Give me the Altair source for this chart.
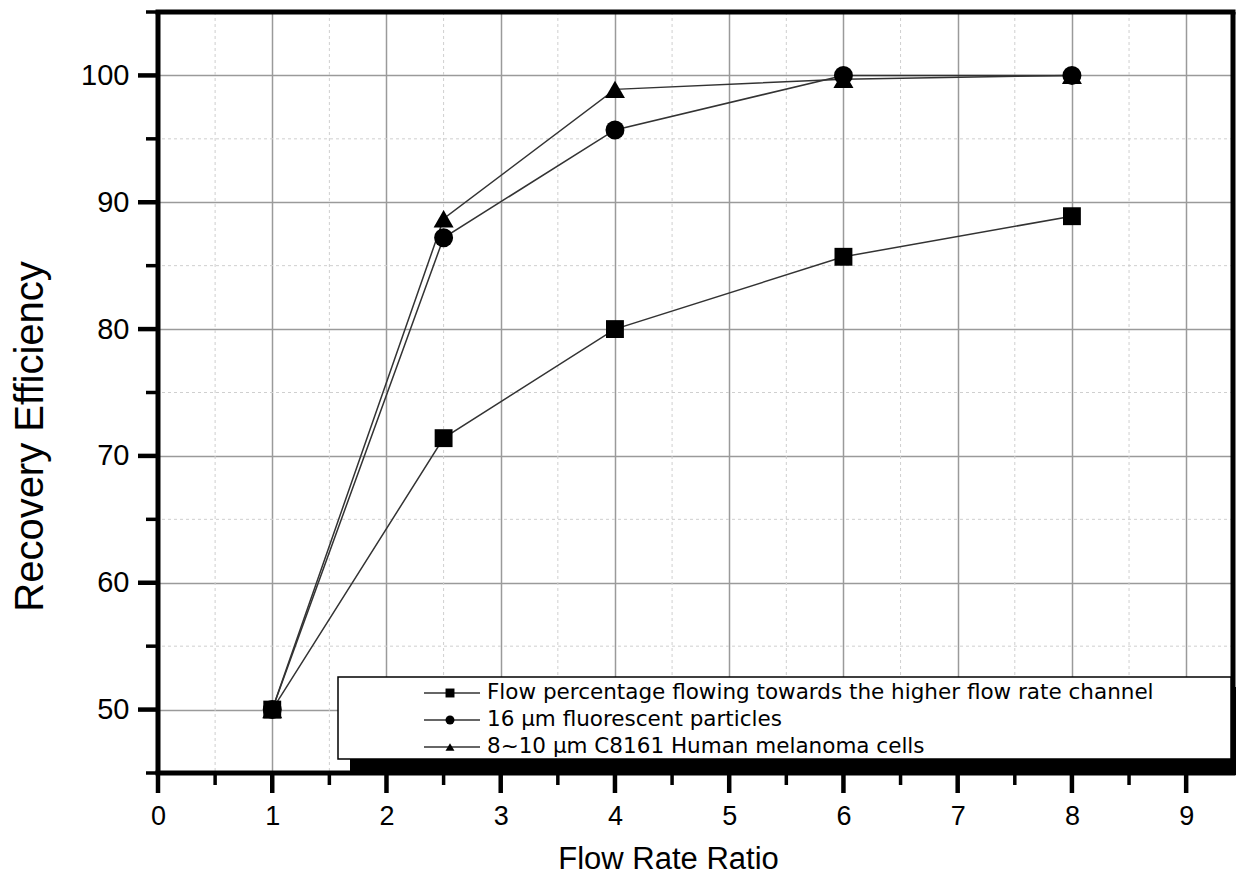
import altair as alt
import pandas as pd

# ---- data ----
flow_ratio = [1, 2.5, 4, 6, 8]
flow_pct = [50.0, 71.4, 80.0, 85.7, 88.9]
particles_16um = [50.0, 87.2, 95.7, 100.0, 100.0]
melanoma_cells = [50.0, 88.7, 98.9, 99.7, 100.0]

series_names = [
    "Flow percentage flowing towards the higher flow rate channel",
    "16 \u00b5m fluorescent particles",
    "8~10 \u00b5m C8161 Human melanoma cells",
]
series_shapes = ["square", "circle", "triangle-up"]
series_sizes = [320, 400, 460]

x_major = [0, 1, 2, 3, 4, 5, 6, 7, 8, 9]
x_minor = [0.5, 1.5, 2.5, 3.5, 4.5, 5.5, 6.5, 7.5, 8.5]
y_major = [50, 60, 70, 80, 90, 100]
y_minor = [45, 55, 65, 75, 85, 95, 105]
y_minor_grid = [55, 65, 75, 85, 95]

rows = []
for name, vals in zip(series_names, [flow_pct, particles_16um, melanoma_cells]):
    for xv, yv in zip(flow_ratio, vals):
        rows.append({"series": name, "ratio": xv, "eff": yv})
df = pd.DataFrame(rows)
df_xmajor = pd.DataFrame({"ratio": x_major})
df_xminor = pd.DataFrame({"ratio": x_minor})
df_ymajor = pd.DataFrame({"eff": y_major})
df_yminor = pd.DataFrame({"eff": y_minor})
df_yminor_grid = pd.DataFrame({"eff": y_minor_grid})

FONT = "Liberation Sans"
W, H = 1075, 761
TMAJ, TMIN = 18, 11

x_axis = alt.Axis(
    values=x_major,
    title="Flow Rate Ratio",
    format="d",
    labelOverlap=False, labelFlush=False,
    labelFont=FONT, labelFontSize=27, labelColor="black", labelPadding=12,
    tickSize=TMAJ, tickOpacity=0,
    domain=False,
    grid=True, gridColor="#9a9a9a", gridWidth=1.5,
    titleFont=FONT, titleFontSize=31, titleFontWeight="normal", titleColor="black",
    titleX=510, titleY=95, titleAlign="center", titleBaseline="alphabetic",
)

y_axis = alt.Axis(
    values=y_major,
    title="Recovery Efficiency",
    format="d",
    labelOverlap=False, labelFlush=False,
    labelFont=FONT, labelFontSize=29, labelColor="black", labelPadding=11,
    tickSize=TMAJ, tickOpacity=0,
    domain=False,
    grid=True, gridColor="#9a9a9a", gridWidth=1.5,
    titleFont=FONT, titleFontSize=40, titleFontWeight="normal", titleColor="black",
    titleAngle=270, titleX=-116, titleY=424, titleAlign="center", titleBaseline="alphabetic",
)

x_scale = alt.Scale(domain=[0, 9.41], nice=False, zero=False)
y_scale = alt.Scale(domain=[45, 105], nice=False, zero=False)
X = alt.X("ratio:Q", scale=x_scale, axis=x_axis)
Y = alt.Y("eff:Q", scale=y_scale, axis=y_axis)

# minor grid (dashed)
minor_grid_x = alt.Chart(df_xminor).mark_rule(color="#cfcfcf", strokeWidth=1, strokeDash=[3, 3]).encode(x=X)
minor_grid_y = alt.Chart(df_yminor_grid).mark_rule(color="#cfcfcf", strokeWidth=1, strokeDash=[3, 3]).encode(y=Y)

# data
base = alt.Chart(df)
lines = base.mark_line(color="#333333", strokeWidth=1.5).encode(
    x=X, y=Y, detail="series:N", order="ratio:Q"
)
points = base.mark_point(filled=True, color="black", opacity=1).encode(
    x=X, y=Y,
    shape=alt.Shape("series:N", scale=alt.Scale(domain=series_names, range=series_shapes), legend=None),
    size=alt.Size("series:N", scale=alt.Scale(domain=series_names, range=series_sizes), legend=None),
)

# ticks (outward, thick)
major_tick_x = alt.Chart(df_xmajor).mark_rule(color="black", strokeWidth=4.5).encode(
    x=X, y=alt.value(H), y2=alt.value(H + TMAJ + 2)
)
minor_tick_x = alt.Chart(df_xminor).mark_rule(color="black", strokeWidth=3.5).encode(
    x=X, y=alt.value(H), y2=alt.value(H + TMIN + 1)
)
major_tick_y = alt.Chart(df_ymajor).mark_rule(color="black", strokeWidth=4.5).encode(
    y=Y, x=alt.value(-TMAJ - 2), x2=alt.value(0)
)
minor_tick_y = alt.Chart(df_yminor).mark_rule(color="black", strokeWidth=3.5).encode(
    y=Y, x=alt.value(-TMIN - 1), x2=alt.value(0)
)

one = pd.DataFrame({"k": [0]})
# frame: four thick edges
frame_top = alt.Chart(one).mark_rule(color="black", strokeWidth=5).encode(
    x=alt.value(-2.5), x2=alt.value(W + 2.5), y=alt.value(0)
)
frame_bottom = alt.Chart(one).mark_rule(color="black", strokeWidth=5).encode(
    x=alt.value(-2.5), x2=alt.value(W + 2.5), y=alt.value(H)
)
frame_left = alt.Chart(one).mark_rule(color="black", strokeWidth=5).encode(
    x=alt.value(0), y=alt.value(0), y2=alt.value(H)
)
frame_right = alt.Chart(one).mark_rule(color="black", strokeWidth=5).encode(
    x=alt.value(W), y=alt.value(0), y2=alt.value(H)
)

# ---- hand-drawn legend box (Origin-style with drop shadow) ----
shadow = alt.Chart(one).mark_rect(color="black").encode(
    x=alt.value(192), x2=alt.value(W + 3), y=alt.value(675), y2=alt.value(763)
)
box = alt.Chart(one).mark_rect(fill="white", stroke="black", strokeWidth=1.5).encode(
    x=alt.value(180), x2=alt.value(1073), y=alt.value(665), y2=alt.value(747)
)

legend_layers = []
row_y = [681, 708, 735]
for name, shp, ry in zip(series_names, series_shapes, row_y):
    d = pd.DataFrame({"label": [name]})
    legend_layers.append(
        alt.Chart(d).mark_rule(color="#333333", strokeWidth=1.5).encode(
            x=alt.value(266), x2=alt.value(322), y=alt.value(ry)
        )
    )
    legend_layers.append(
        alt.Chart(d).mark_point(filled=True, color="black", opacity=1, shape=shp, size=80).encode(
            x=alt.value(292), y=alt.value(ry)
        )
    )
    legend_layers.append(
        alt.Chart(d).mark_text(
            font="DejaVu Sans", fontSize=21.5, color="black", align="left", baseline="middle"
        ).encode(x=alt.value(329), y=alt.value(ry), text="label:N")
    )

chart = alt.layer(
    minor_grid_x, minor_grid_y, lines, points,
    major_tick_x, minor_tick_x, major_tick_y, minor_tick_y,
    frame_top, frame_bottom, frame_left, frame_right,
    shadow, box, *legend_layers
).properties(
    width=W,
    height=H,
    padding={"left": 150, "top": 4, "right": 3, "bottom": 105},
    autosize=alt.AutoSizeParams(type="none"),
    background="white",
).configure_view(
    stroke=None
)

chart.save("out.html", embed_options={"renderer": "svg", "actions": False})
